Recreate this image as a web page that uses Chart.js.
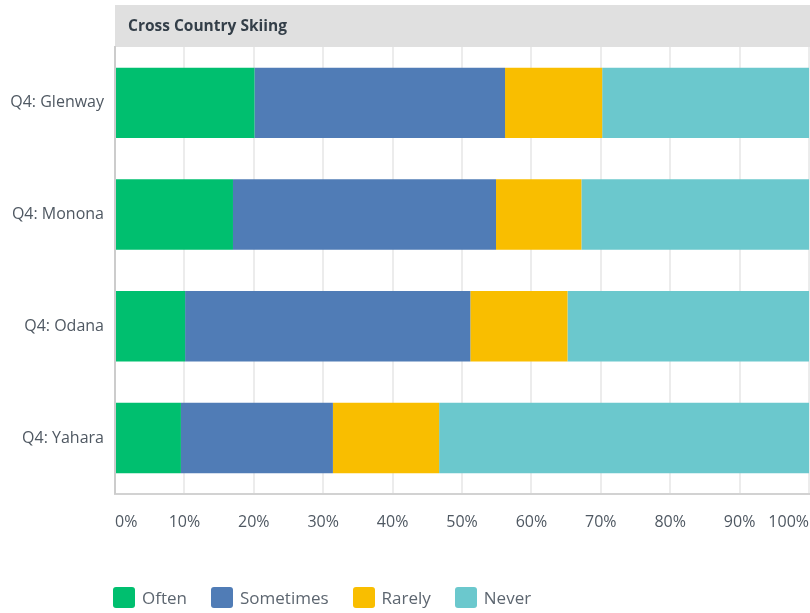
<!DOCTYPE html>
<html>
<head>
<meta charset="utf-8">
<script src="https://cdn.jsdelivr.net/npm/chart.js@4.4.1/dist/chart.umd.min.js"></script>
<style>
  html, body { margin: 0; padding: 0; background: #fff; }
  #wrap { position: relative; width: 810px; height: 613px; }
  #legend {
    position: absolute; left: 113px; top: 586px;
    display: flex; align-items: center;
    font-family: "Open Sans", sans-serif; font-size: 17px; color: #5d6670;
  }
  .item { display: flex; align-items: center; margin-right: 24px; }
  .swatch { width: 22px; height: 21px; border-radius: 3px; margin-right: 7px; }
</style>
</head>
<body>
<div id="wrap">
  <canvas id="chart" width="810" height="613"></canvas>
  <div id="legend"></div>
</div>
<script>
// ── Data ──────────────────────────────────────────────────────────────────
const title      = 'Cross Country Skiing';
const categories = ['Q4: Glenway', 'Q4: Monona', 'Q4: Odana', 'Q4: Yahara'];
const seriesNames = ['Often', 'Sometimes', 'Rarely', 'Never'];
const often      = [20.1, 17.0, 10.1, 9.5];
const sometimes  = [36.1, 37.9, 41.1, 21.9];
const rarely     = [14.0, 12.3, 14.0, 15.3];
const never      = [29.8, 32.8, 34.8, 53.3];
const xTicks     = [0, 10, 20, 30, 40, 50, 60, 70, 80, 90, 100];

const COLORS = ['#00bf6f', '#507cb6', '#f9be00', '#6bc8cd'];
const series = [often, sometimes, rarely, never];

// gray header band above the plot
const headerBand = {
  id: 'headerBand',
  beforeDraw(chart) {
    const { ctx, chartArea } = chart;
    ctx.save();
    ctx.fillStyle = '#e0e0e0';
    ctx.fillRect(chartArea.left, 5, chart.width - chartArea.left, chartArea.top - 5);
    ctx.fillStyle = '#333e48';
    ctx.font = 'bold 15.5px "Open Sans", sans-serif';
    ctx.textBaseline = 'middle';
    ctx.fillText(title, chartArea.left + 13, 27);
    ctx.restore();
  }
};

new Chart(document.getElementById('chart').getContext('2d'), {
  type: 'bar',
  data: {
    labels: categories,
    datasets: seriesNames.map((name, i) => ({
      label: name,
      data: series[i],
      backgroundColor: COLORS[i],
      borderWidth: 0,
      barPercentage: 0.63,
      categoryPercentage: 1
    }))
  },
  options: {
    indexAxis: 'y',
    responsive: false,
    animation: false,
    layout: { padding: { top: 47, right: 1, bottom: 62, left: 0 } },
    plugins: {
      legend: { display: false },
      tooltip: { enabled: false }
    },
    scales: {
      x: {
        stacked: true,
        min: 0,
        max: 100,
        afterBuildTicks: scale => { scale.ticks = xTicks.map(v => ({ value: v })); },
        afterFit: scale => { scale.paddingLeft = 0; scale.paddingRight = 0; },
        ticks: {
          callback: v => v + '%',
          align: 'inner',
          padding: 19,
          color: '#4f5862',
          font: { family: '"Open Sans", sans-serif', size: 16 }
        },
        grid: { color: '#ececec', lineWidth: 2, drawTicks: false },
        border: { color: '#d2d2d2', width: 2 }
      },
      y: {
        stacked: true,
        afterFit: scale => { scale.width = 115; },
        ticks: {
          padding: 11,
          color: '#4f5862',
          font: { family: '"Open Sans", sans-serif', size: 16 }
        },
        grid: { display: false, drawTicks: false },
        border: { color: '#cccccc', width: 2 }
      }
    }
  },
  plugins: [headerBand]
});

// HTML legend
document.getElementById('legend').innerHTML = seriesNames.map((name, i) =>
  `<div class="item"><div class="swatch" style="background:${COLORS[i]}"></div>${name}</div>`
).join('');
</script>
</body>
</html>
